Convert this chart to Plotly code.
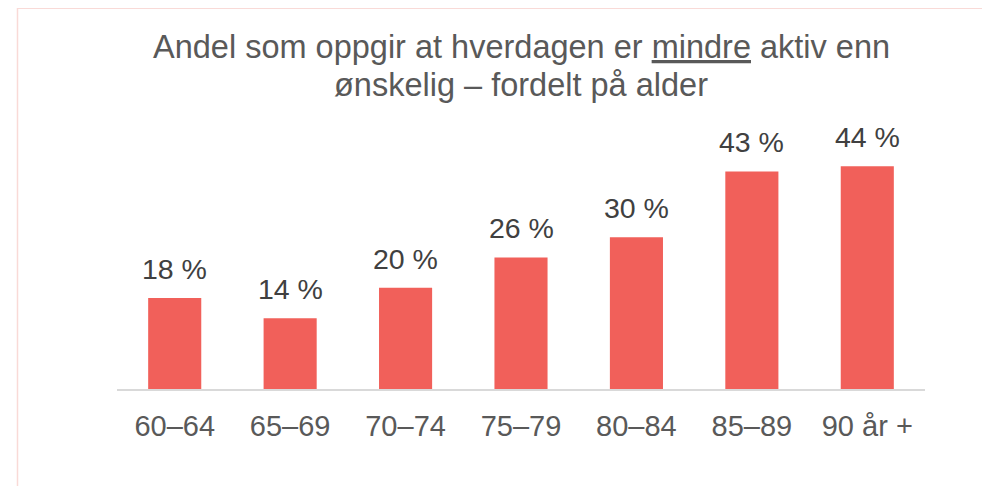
import plotly.graph_objects as go

categories = ["60–64", "65–69", "70–74", "75–79", "80–84", "85–89", "90 år +"]
values = [18, 14, 20, 26, 30, 43, 44]
labels = ["18 %", "14 %", "20 %", "26 %", "30 %", "43 %", "44 %"]
title_lines = ["Andel som oppgir at hverdagen er <u>mindre</u> aktiv enn",
               "ønskelig – fordelt på alder"]

W, H = 990, 486
ML, MR, MT, MB = 109, 73, 128, 105
PW, PH = W - ML - MR, H - MT - MB
YMAX = 50

FONT = "Liberation Sans, Arial, sans-serif"

fig = go.Figure()
fig.add_trace(go.Bar(
    x=categories, y=values,
    marker=dict(color="#F1605A", line=dict(width=0)),
    hoverinfo="skip",
))

for c, v, t in zip(categories, values, labels):
    fig.add_annotation(x=c, y=v, text=t, showarrow=False, yanchor="bottom",
                       yshift=11, font=dict(size=28.5, color="#404040", family=FONT))

def px_to_paper_x(px):
    return (px - ML) / PW

def px_to_paper_y(py):
    return (H - MB - py) / PH

# title lines (bottom edges in layout pixels)
for line, bottom in zip(title_lines, [59.5, 97]):
    fig.add_annotation(x=0.5, xref="paper", y=px_to_paper_y(bottom), yref="paper",
                       xanchor="center", yanchor="bottom", showarrow=False,
                       text=line, font=dict(size=32.5, color="#595959", family=FONT))

border = "#F9DAD7"
fig.add_shape(type="line", xref="paper", yref="paper",
              x0=px_to_paper_x(9), x1=px_to_paper_x(W + 5),
              y0=px_to_paper_y(0), y1=px_to_paper_y(0),
              line=dict(color=border, width=2))
fig.add_shape(type="line", xref="paper", yref="paper",
              x0=px_to_paper_x(9.5), x1=px_to_paper_x(9.5),
              y0=px_to_paper_y(0), y1=px_to_paper_y(H + 5),
              line=dict(color=border, width=1.5))

fig.update_layout(
    width=W, height=H,
    margin=dict(l=ML, r=MR, t=MT, b=MB, pad=0),
    paper_bgcolor="white", plot_bgcolor="white",
    bargap=0.54,
    showlegend=False,
    font=dict(family=FONT),
    xaxis=dict(
        showline=True, linecolor="#D9D9D9", linewidth=1.5,
        showgrid=False, ticks="", zeroline=False,
        tickfont=dict(size=29, color="#595959", family=FONT),
        ticklabelstandoff=10,
    ),
    yaxis=dict(
        range=[0, YMAX], visible=False, showgrid=False, zeroline=False,
    ),
)

fig.write_html("out.html")
